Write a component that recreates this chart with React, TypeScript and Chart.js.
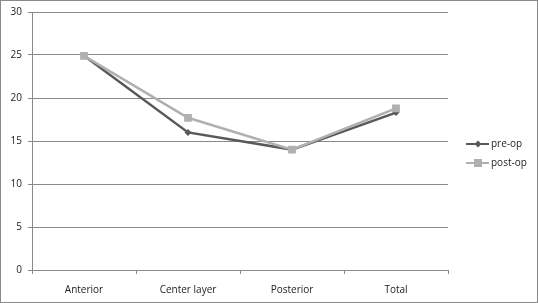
import React, { useEffect, useRef } from "react";
import { Chart, registerables } from "chart.js";

Chart.register(...registerables);

const categories = ["Anterior", "Center layer", "Posterior", "Total"];
const preOp = [24.9, 16.0, 14.0, 18.3];
const postOp = [24.9, 17.7, 14.0, 18.8];
const seriesNames = ["pre-op", "post-op"];

const FONT = "'Open Sans', sans-serif";

const framePlugin = {
  id: "frame",
  afterDraw(chart: any) {
    const ctx = chart.ctx;
    ctx.save();
    ctx.strokeStyle = "#8a8a8a";
    ctx.lineWidth = 1;
    ctx.strokeRect(0.5, 0.5, chart.width - 1, chart.height - 1);
    // custom legend
    const items = [
      { name: seriesNames[0], color: "#595959", style: "diamond", y: 144 },
      { name: seriesNames[1], color: "#b0b0b0", style: "square", y: 163 },
    ];
    ctx.font = "10px " + FONT;
    ctx.textBaseline = "middle";
    items.forEach((it) => {
      ctx.strokeStyle = it.color;
      ctx.lineWidth = 2;
      ctx.beginPath();
      ctx.moveTo(466, it.y);
      ctx.lineTo(489, it.y);
      ctx.stroke();
      ctx.fillStyle = it.color;
      if (it.style === "diamond") {
        ctx.beginPath();
        ctx.moveTo(478, it.y - 3.5);
        ctx.lineTo(481.5, it.y);
        ctx.lineTo(478, it.y + 3.5);
        ctx.lineTo(474.5, it.y);
        ctx.closePath();
        ctx.fill();
      } else {
        ctx.fillRect(474, it.y - 4, 8, 8);
      }
      ctx.fillStyle = "#222";
      ctx.fillText(it.name, 491, it.y);
    });
    ctx.restore();
  },
};

export default function App() {
  const ref = useRef<HTMLCanvasElement | null>(null);
  useEffect(() => {
    document.body.style.margin = "0";
    const chart = new Chart(ref.current!, {
      type: "line",
      data: {
        labels: categories,
        datasets: [
          {
            label: seriesNames[0],
            data: preOp,
            borderColor: "#595959",
            backgroundColor: "#595959",
            borderWidth: 2.5,
            pointStyle: "rectRot",
            pointRadius: 3.5,
            pointBorderWidth: 0,
            order: 1,
          },
          {
            label: seriesNames[1],
            data: postOp,
            borderColor: "#b0b0b0",
            backgroundColor: "#b0b0b0",
            borderWidth: 2.5,
            pointStyle: "rect",
            pointRadius: 5.5,
            pointBorderWidth: 0,
            order: 0,
          },
        ],
      },
      options: {
        animation: false,
        responsive: false,
        layout: { padding: { top: 12, right: 90, left: 0, bottom: 0 } },
        plugins: { legend: { display: false }, tooltip: { enabled: false } },
        scales: {
          x: {
            offset: true,
            grid: {
              display: true,
              offset: true,
              drawOnChartArea: false,
              drawTicks: true,
              tickLength: 4,
              color: "#8a8a8a",
            },
            border: { color: "#8a8a8a" },
            ticks: { color: "#222", font: { family: FONT, size: 10 }, padding: 10 },
            afterFit: (s: any) => {
              s.height = 33;
            },
          },
          y: {
            min: 0,
            max: 30,
            ticks: { stepSize: 5, color: "#222", font: { family: FONT, size: 10 }, padding: 6 },
            grid: { color: "#8a8a8a", tickLength: 4 },
            border: { color: "#8a8a8a" },
            afterFit: (s: any) => {
              s.width = 32;
            },
          },
        },
      },
      plugins: [framePlugin],
    });
    return () => chart.destroy();
  }, []);
  return <canvas ref={ref} width={538} height={303} style={{ display: "block" }} />;
}
